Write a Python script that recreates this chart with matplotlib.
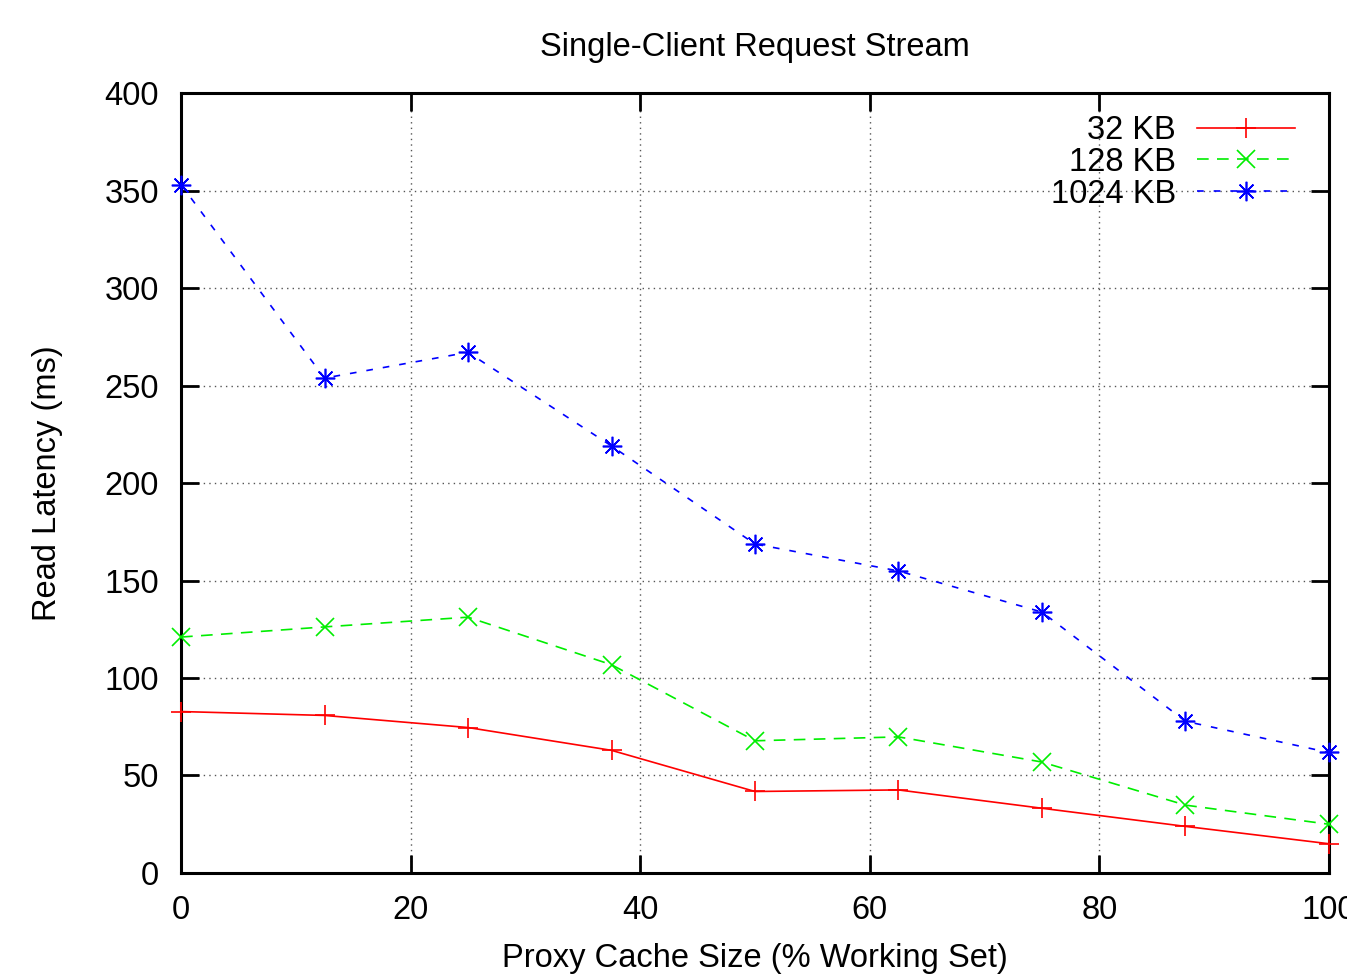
import numpy as np
import matplotlib
matplotlib.use("Agg")
import matplotlib.pyplot as plt

plt.rcParams['font.family'] = ['Liberation Sans', 'DejaVu Sans']

# proxy cache size, % of working set
cache_size = [0, 12.5, 25, 37.5, 50, 62.5, 75, 87.5, 100]

# read latency (ms) per request size
lat_32kb = [82.8, 80.8, 74.6, 62.9, 41.8, 42.6, 33.2, 23.9, 15.0]
lat_128kb = [121.0, 126.2, 131.2, 106.8, 67.8, 69.8, 56.9, 34.8, 25.0]
lat_1024kb = [353.0, 253.8, 267.0, 219.0, 168.7, 154.9, 133.8, 77.8, 61.8]

labels = ['32 KB', '128 KB', '1024 KB']
x_ticks = np.arange(0, 101, 20)
y_ticks = np.arange(0, 401, 50)

fs = 23.5

fig = plt.figure(figsize=(13.47, 9.74), dpi=100)
ax = fig.add_axes([0.1344, 0.1037, 0.8522, 0.8008])

ax.plot(cache_size, lat_32kb, color='#ff0000', lw=1.2, ls='-',
        marker='+', ms=14, mew=1.2, label=labels[0], clip_on=False, zorder=3)
ax.plot(cache_size, lat_128kb, color='#00ee00', lw=1.2, ls=(0, (7, 5)),
        marker='x', ms=13, mew=1.2, label=labels[1], clip_on=False, zorder=3)
ax.plot(cache_size, lat_1024kb, color='#0000ff', lw=1.2, ls=(0, (4, 6)),
        marker=(8, 2, 0), ms=14, mew=1.2, label=labels[2], clip_on=False, zorder=3)

ax.set_xlim(0, 100)
ax.set_ylim(0, 400)
ax.set_xticks(x_ticks)
ax.set_yticks(y_ticks)
ax.tick_params(direction='in', length=13, width=2, labelsize=fs, pad=16,
               top=True, right=True)
for sp in ax.spines.values():
    sp.set_linewidth(2.2)

ax.grid(True, color='#555555', ls=(0, (1, 3)), lw=1.0)
ax.set_axisbelow(True)

ax.set_title('Single-Client Request Stream', fontsize=fs, pad=27)
ax.set_xlabel('Proxy Cache Size (% Working Set)', fontsize=fs, labelpad=12)
ax.set_ylabel('Read Latency (ms)', fontsize=fs, labelpad=30)

leg = ax.legend(loc='upper right', frameon=False, fontsize=fs, markerfirst=False,
                handlelength=3.0, handletextpad=0.65, labelspacing=0.02,
                borderaxespad=0.28, bbox_to_anchor=(0.990, 1.0))

fig.savefig('out.png', dpi=100)
